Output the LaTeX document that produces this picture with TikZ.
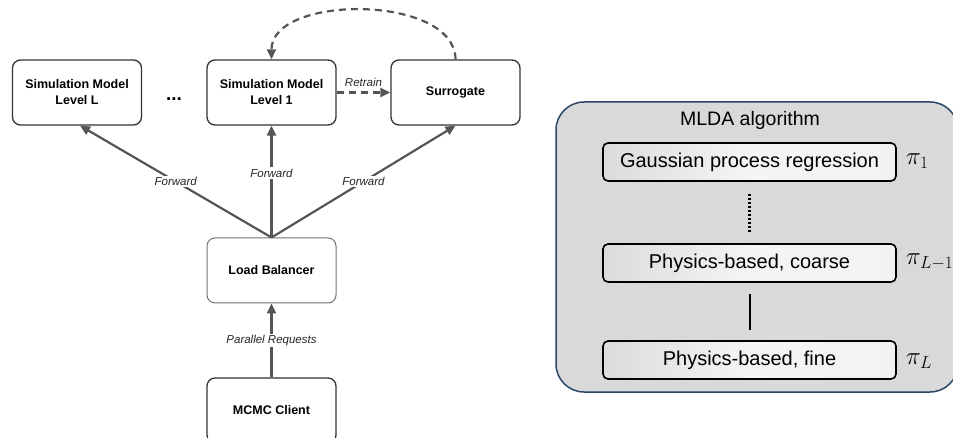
\documentclass[tikz,border=0pt]{standalone}
\usepackage{fontspec}
\setmainfont{Liberation Sans}
\usetikzlibrary{arrows.meta}
\definecolor{boxedge}{HTML}{333333}
\definecolor{arrowgray}{HTML}{555555}
\definecolor{panelfill}{HTML}{D9D9D9}
\definecolor{paneledge}{HTML}{2B4766}
\tikzset{
  sysbox/.style={draw=boxedge, line width=1.3pt, rounded corners=8pt, fill=white,
    minimum width=129pt, minimum height=65pt, align=center,
    font=\fontsize{12.5}{16}\selectfont\bfseries, inner sep=0pt},
  flow/.style={draw=arrowgray, line width=2.2pt, -{Triangle[length=10pt,width=9pt]}},
  dflow/.style={flow, dash pattern=on 7pt off 5pt},
  lbl/.style={fill=white, inner sep=1.5pt, font=\fontsize{11.5}{13}\selectfont\itshape, text=black!85},
  lvlbox/.style={draw=black, line width=1.6pt, rounded corners=5pt,
    left color=black!14, right color=black!5, middle color=black!4,
    minimum width=293pt, minimum height=38pt, inner sep=0pt,
    font=\fontsize{20}{22}\selectfont},
  pilbl/.style={anchor=west, inner sep=0pt, font=\fontsize{23}{25}\selectfont},
}
\begin{document}
\begin{tikzpicture}[x=1pt,y=-1pt]
\useasboundingbox (0,0) rectangle (953,438);
% left diagram
\node[sysbox] (L)  at (77,92.5)    {Simulation Model\\Level L};
\node[font=\fontsize{19}{19}\selectfont\bfseries] (dots) at (174,99) {...};
\node[sysbox] (L1) at (271.5,92.5) {Simulation Model\\Level 1};
\node[sysbox] (S)  at (455.5,92.5) {Surrogate};
\node[sysbox, draw=black!55, line width=1pt] (LB) at (271.5,270.5) {Load Balancer};
\node[sysbox] (MC) at (271.5,410.5) {MCMC Client};

\draw[flow] (LB.north) -- node[lbl, pos=0.5] {Forward} ([xshift=3pt]L.south);
\draw[flow] (LB.north) -- node[lbl, pos=0.575] {Forward} (L1.south);
\draw[flow] (LB.north) -- node[lbl, pos=0.5] {Forward} (S.south);
\draw[flow] (MC.north) -- node[lbl] {Parallel Requests} (LB.south);
\draw[dflow] (L1.east) -- node[lbl, above=3pt, fill=none] {Retrain} (S.west);
\draw[dflow] (S.north) .. controls (455,-6) and (271,-6) .. (L1.north);

% right panel
\node[draw=paneledge, line width=1.5pt, fill=panelfill, rounded corners=28pt,
  minimum width=402pt, minimum height=290pt, inner sep=0pt] (panel) at (757,247) {};
\node[font=\fontsize{19.5}{22}\selectfont] (title) at (750,120) {MLDA algorithm};
\node[lvlbox] (g1) at (749.5,162) {Gaussian process regression};
\node[lvlbox] (g2) at (749.5,263) {Physics-based, coarse};
\node[lvlbox] (g3) at (749.5,360) {Physics-based, fine};
\node[pilbl] (p1) at (906,161) {$\pi_1$};
\node[pilbl] (p2) at (906,262) {$\pi_{L-1}$};
\node[pilbl] (p3) at (906,361) {$\pi_L$};
\draw[line width=2.2pt, dash pattern=on 2pt off 2pt] ([yshift=-12pt]g1.south) -- ([yshift=10pt]g2.north);
\draw[line width=2pt] ([yshift=-11pt]g2.south) -- ([yshift=10pt]g3.north);
\end{tikzpicture}
\end{document}
